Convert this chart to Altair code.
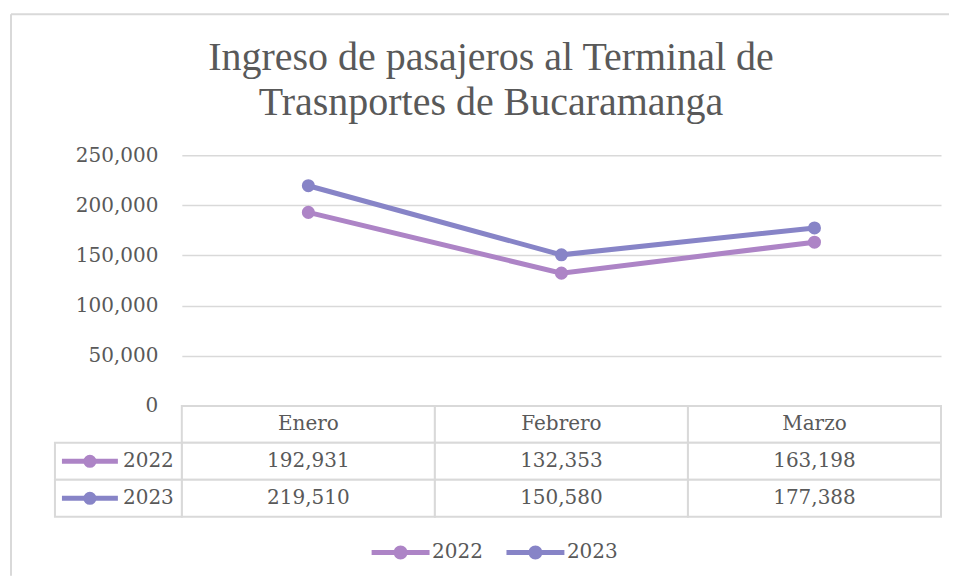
import altair as alt
import pandas as pd

months = ["Enero", "Febrero", "Marzo"]
series = ["2022", "2023"]
v2022 = [192931, 132353, 163198]
v2023 = [219510, 150580, 177388]
colors = ["#AD84C6", "#8784C7"]
y_ticks = [0, 50000, 100000, 150000, 200000, 250000]
title_lines = ["Ingreso de pasajeros al Terminal de", "Trasnportes de Bucaramanga"]

FONT = "DejaVu Serif"
TFONT = "Liberation Serif"
GRAY = "#595959"
GRID = "#D9D9D9"

rows = []
for s, vals in zip(series, [v2022, v2023]):
    for m, v in zip(months, vals):
        rows.append({"Mes": m, "Serie": s, "Valor": v})
df = pd.DataFrame(rows)

cells = []
for m in months:
    cells.append({"Mes": m, "Fila": "h", "Texto": m})
for s, vals in zip(series, [v2022, v2023]):
    for m, v in zip(months, vals):
        cells.append({"Mes": m, "Fila": s, "Texto": f"{v:,}"})
cells_df = pd.DataFrame(cells)
labels_df = pd.DataFrame({"Fila": series, "Serie": series})

legend_path = ("M-2,-0.17 L2,-0.17 L2,0.17 L-2,0.17 Z "
               "M-0.48,0 A0.48,0.48 0 1,1 0.48,0 A0.48,0.48 0 1,1 -0.48,0 Z")

color = alt.Color(
    "Serie:N",
    scale=alt.Scale(domain=series, range=colors),
    legend=alt.Legend(
        title=None, orient="none", direction="horizontal",
        legendX=204.5, legendY=383,
        symbolType=legend_path, symbolSize=841, symbolStrokeWidth=0,
        symbolOpacity=1, labelOffset=17, columnPadding=23,
        labelFont=FONT, labelFontSize=20, labelColor=GRAY,
    ),
)

row_scale = alt.Scale(domain=["h"] + series, paddingInner=0, paddingOuter=0)
band_x = alt.Scale(domain=months, paddingInner=0, paddingOuter=0)
no_view = alt.ViewBackground(stroke="transparent", strokeWidth=0, strokeOpacity=0)

base = alt.Chart(df).encode(
    x=alt.X("Mes:N", scale=alt.Scale(domain=months, type="point", padding=0.5), axis=None),
    y=alt.Y(
        "Valor:Q",
        scale=alt.Scale(domain=[0, 250000]),
        axis=alt.Axis(
            values=y_ticks, format=",d", grid=True, gridColor=GRID, gridWidth=1.5,
            domain=False, ticks=False, labelFont=FONT, labelFontSize=20,
            labelColor=GRAY, labelPadding=24, title=None,
        ),
    ),
    color=color,
)
lines = base.mark_line(strokeWidth=5)
points = base.mark_circle(size=170, opacity=1)

# outer chart frame (top and left edges, as in the reference)
frame_top = alt.Chart(labels_df.head(1)).mark_rule(color=GRID, strokeWidth=2).encode(
    x=alt.value(-171), x2=alt.value(768), y=alt.value(-141)
)
frame_left = alt.Chart(labels_df.head(1)).mark_rule(color=GRID, strokeWidth=2).encode(
    x=alt.value(-171), y=alt.value(-141), y2=alt.value(421)
)
top = (frame_top + frame_left + lines + points).properties(
    width=760, height=251, view=no_view
)

tbase = alt.Chart(cells_df).encode(
    x=alt.X("Mes:N", scale=band_x, axis=None),
    y=alt.Y("Fila:N", scale=row_scale, axis=None),
)
tcells = tbase.mark_rect(fill="white", stroke=GRID, strokeWidth=2)
ttext = tbase.mark_text(font=FONT, fontSize=20, color=GRAY).encode(text="Texto:N")

lbase = alt.Chart(labels_df).encode(y=alt.Y("Fila:N", scale=row_scale, axis=None))
lcells = lbase.mark_rect(fill="white", stroke=GRID, strokeWidth=2).encode(
    x=alt.value(-127), x2=alt.value(0)
)
lrule = lbase.mark_rule(strokeWidth=5).encode(
    x=alt.value(-120), x2=alt.value(-64), color=color
)
ldot = lbase.mark_circle(size=170, opacity=1).encode(x=alt.value(-92), color=color)
ltext = lbase.mark_text(font=FONT, fontSize=20, color=GRAY, align="right").encode(
    x=alt.value(-8), text="Fila:N"
)
table = (tcells + ttext + lcells + lrule + ldot + ltext).properties(
    width=760, height=111, view=no_view
)

chart = alt.vconcat(top, table, spacing=0, bounds="flush").properties(
    title=alt.TitleParams(
        text=title_lines, font=TFONT, fontSize=40, fontWeight="normal",
        color=GRAY, anchor="middle", lineHeight=45, offset=-110, dx=11,
    ),
    padding={"left": 2, "top": 5, "right": 0, "bottom": 0},
).configure_view(stroke="transparent", strokeWidth=0).configure(background="white")

chart.save("out.html", embed_options={"renderer": "svg", "actions": False})
